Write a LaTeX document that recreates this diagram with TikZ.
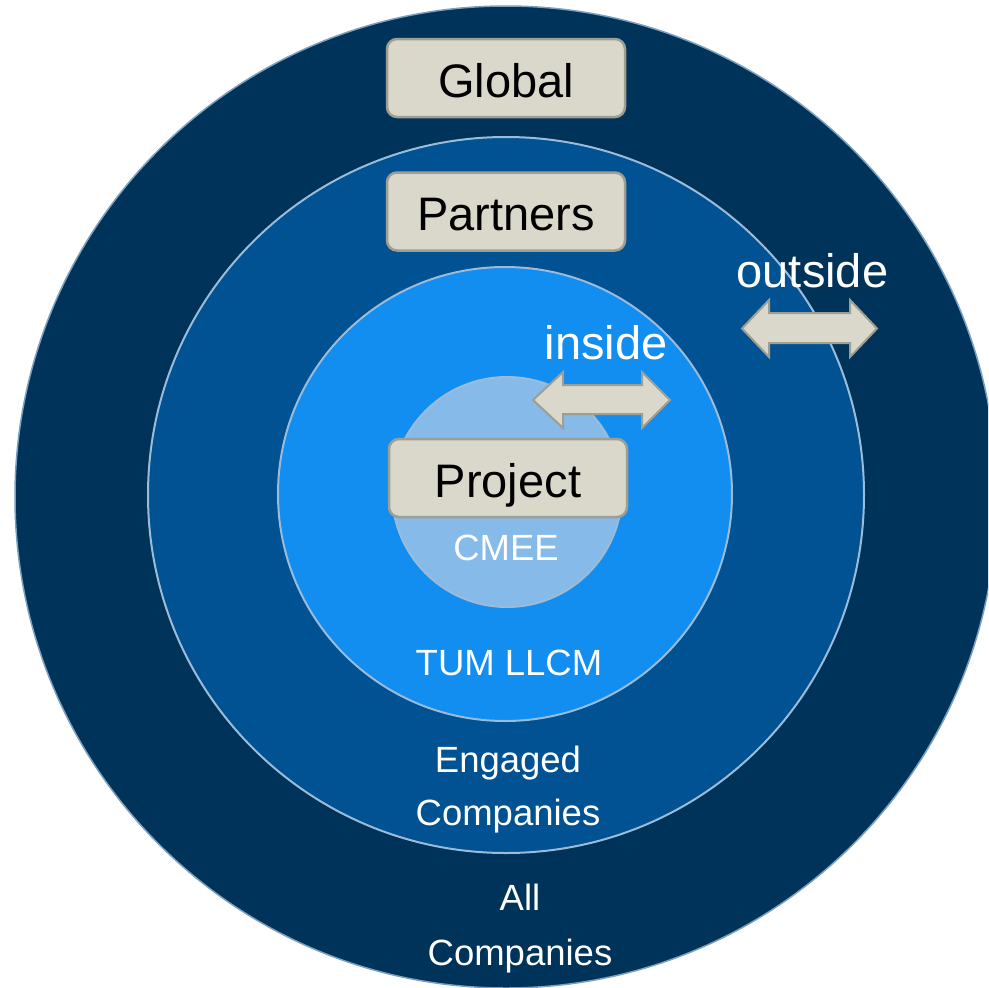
\documentclass[tikz,border=0pt]{standalone}
\usepackage{fontspec}
\setmainfont{Liberation Sans}
\definecolor{ringA}{HTML}{003359}
\definecolor{ringB}{HTML}{005293}
\definecolor{ringC}{HTML}{128DF0}
\definecolor{ringD}{HTML}{86BAE8}
\definecolor{ringedge}{HTML}{9BBBD8}
\definecolor{boxfill}{HTML}{DAD7CB}
\definecolor{boxedge}{HTML}{A09D92}
\begin{document}
\begin{tikzpicture}[x=1pt,y=-1pt,
  ring/.style={draw=ringedge,line width=2pt},
  tag/.style={draw=boxedge,fill=boxfill,line width=2.5pt,rounded corners=10pt,
    minimum width=238pt,minimum height=78pt,inner sep=0pt,
    text height=38pt,text depth=0pt,font=\fontsize{47}{47}\selectfont},
  biglabel/.style={anchor=base,text=white,inner sep=0pt,font=\fontsize{47}{47}\selectfont},
  smalllabel/.style={anchor=base,text=white,inner sep=0pt,font=\fontsize{36.5}{36.5}\selectfont},
  flow/.style={draw=boxedge,fill=boxfill,line width=2pt,line join=miter}]
\useasboundingbox (0,0) rectangle (988,988);
\clip (0,0) rectangle (988,988);

% nested rings
\draw[ring,draw=ringedge!80!ringA,line width=1.5pt,fill=ringA] (506,497) circle[radius=491];
\draw[ring,fill=ringB] (506,495) circle[radius=358];
\draw[ring,fill=ringC] (505,494) circle[radius=227];
\draw[ring,fill=ringD] (507,492) circle[radius=115];

% level tags
\node[tag] (global) at (506,78) {Global};
\node[tag] (partners) at (506,211.5) {Partners};
\node[tag] (project) at (508,478) {Project};

% ring labels
\node[smalllabel] (cmee) at (506,560) {CMEE};
\node[smalllabel] (llcm) at (509,675) {TUM LLCM};
\node[smalllabel] (eng1) at (508,772) {Engaged};
\node[smalllabel] (eng2) at (508,825) {Companies};
\node[smalllabel] (all1) at (520,910) {All};
\node[smalllabel] (all2) at (520,965) {Companies};

% exchange arrows
\node[biglabel] (inside) at (606,359) {inside};
\node[biglabel] (outside) at (812.5,287) {outside};
\path[flow] (533,400) -- (563,372) -- (563,385) -- (642,385) -- (642,372) -- (670,400)
  -- (642,428) -- (642,414) -- (563,414) -- (563,428) -- cycle;
\path[flow] (742,328.5) -- (769,300) -- (769,313) -- (850,313) -- (850,300) -- (877,328.5)
  -- (850,357) -- (850,343) -- (769,343) -- (769,357) -- cycle;
\end{tikzpicture}
\end{document}
